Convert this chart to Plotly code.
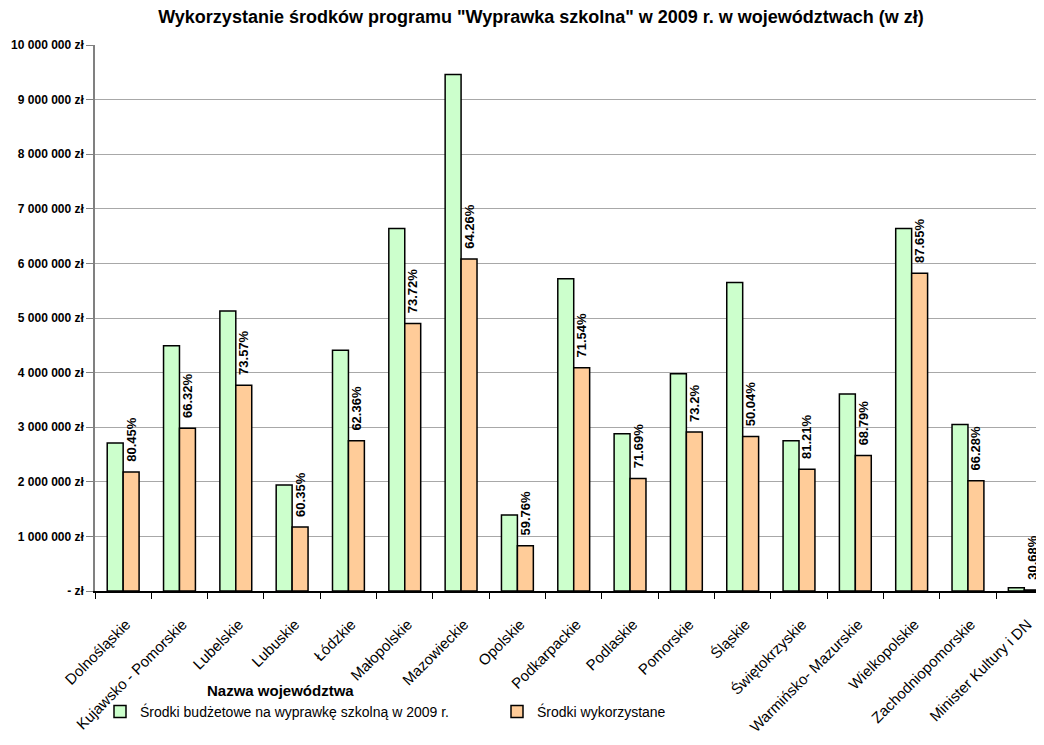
import plotly.graph_objects as go

categories = ["Dolnośląskie", "Kujawsko - Pomorskie", "Lubelskie", "Lubuskie", "Łódzkie",
              "Małopolskie", "Mazowieckie", "Opolskie", "Podkarpackie", "Podlaskie",
              "Pomorskie", "Śląskie", "Świętokrzyskie", "Warmińsko- Mazurskie",
              "Wielkopolskie", "Zachodniopomorskie", "Minister Kultury i DN"]
budget = [2710000, 4490000, 5130000, 1940000, 4410000, 6640000, 9460000, 1390000,
          5720000, 2880000, 3980000, 5650000, 2750000, 3610000, 6640000, 3050000, 61000]
used = [2180000, 2980000, 3770000, 1170000, 2750000, 4900000, 6080000, 830000,
        4090000, 2060000, 2910000, 2830000, 2230000, 2480000, 5820000, 2020000, 18700]
percent_labels = ["80.45%", "66.32%", "73.57%", "60.35%", "62.36%", "73.72%", "64.26%",
                  "59.76%", "71.54%", "71.69%", "73.2%", "50.04%", "81.21%", "68.79%",
                  "87.65%", "66.28%", "30.68%"]
ytick_vals = [0, 1e6, 2e6, 3e6, 4e6, 5e6, 6e6, 7e6, 8e6, 9e6, 1e7]
ytick_text = ["- zł", "1 000 000 zł", "2 000 000 zł", "3 000 000 zł", "4 000 000 zł",
              "5 000 000 zł", "6 000 000 zł", "7 000 000 zł", "8 000 000 zł",
              "9 000 000 zł", "10 000 000 zł"]
series_names = ["Środki budżetowe na wyprawkę szkolną w 2009 r.", "Środki wykorzystane"]

FONT = "Arial, Liberation Sans, sans-serif"
W, H = 1036, 737          # page body has an 8px margin
L, T, B = 87, 37, 154
PW, PH = W - L, H - T - B

fig = go.Figure()
fig.add_trace(go.Bar(x=categories, y=budget, name=series_names[0],
                     marker=dict(color="#CCFFCC", line=dict(color="#000000", width=1.5))))
fig.add_trace(go.Bar(x=categories, y=used, name=series_names[1],
                     marker=dict(color="#FFCC99", line=dict(color="#000000", width=1.5)),
                     text=percent_labels, texttemplate="\u00a0\u00a0%{text}",
                     textposition="outside", textangle=-90,
                     constraintext="none", cliponaxis=False,
                     textfont=dict(family=FONT, size=13, color="#000000", weight="bold")))

fig.update_layout(
    width=W, height=H,
    margin=dict(l=L, r=0, t=T, b=B, pad=0),
    paper_bgcolor="white", plot_bgcolor="white",
    barmode="group", bargap=0.434, bargroupgap=0,
    font=dict(family=FONT, color="#000000"),
    title=dict(text='<b>Wykorzystanie środków programu "Wyprawka szkolna" w 2009 r. w województwach (w zł)</b>',
               x=533 / W, xanchor="center", y=1 - 9 / H, yanchor="middle",
               font=dict(family=FONT, size=18, color="#000000")),
    xaxis=dict(type="category", range=[-0.5, 16.35], tickangle=-45, automargin=False,
               tickfont=dict(family=FONT, size=15, color="#000000"),
               ticks="outside", ticklen=6, tickcolor="#000000", tickson="boundaries",
               ticklabelshift=3, ticklabelstandoff=17,
               showline=True, linecolor="#000000", linewidth=1.5, showgrid=False),
    yaxis=dict(range=[0, 10000000], tickvals=ytick_vals, ticktext=ytick_text, automargin=False,
               tickfont=dict(family=FONT, size=12, color="#000000", weight="bold"),
               ticks="outside", ticklen=7, tickcolor="#808080",
               showline=True, linecolor="#808080", linewidth=1.5,
               showgrid=True, gridcolor="#A8A8A8", gridwidth=1, zeroline=False),
    legend=dict(orientation="h", x=(92 - L) / PW, xanchor="left",
                y=-(704 - (T + PH)) / PH, yanchor="middle",
                bgcolor="rgba(0,0,0,0)",
                entrywidth=352, entrywidthmode="pixels",
                font=dict(family=FONT, size=14, color="#000000"), traceorder="normal"),
    showlegend=True,
    annotations=[dict(text="<b>Nazwa województwa</b>", xref="paper", yref="paper",
                      x=(272 - L) / PW, y=-(682 - (T + PH)) / PH, showarrow=False,
                      xanchor="center", yanchor="middle",
                      font=dict(family=FONT, size=15, color="#000000"))],
)

fig.write_html("out.html")
